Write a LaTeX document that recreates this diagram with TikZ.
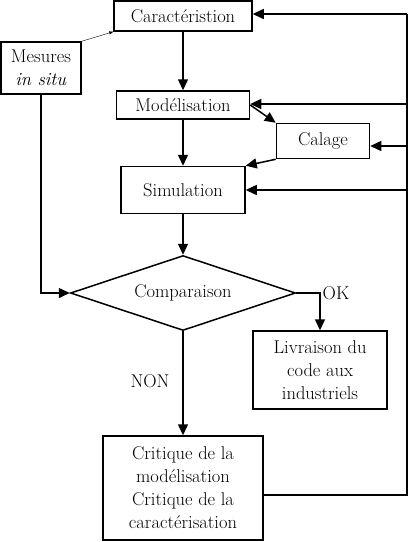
\documentclass[tikz,border=0pt]{standalone}
\usepackage{fontspec}
\usetikzlibrary{shapes.geometric,arrows.meta}
\begin{document}
\begin{tikzpicture}[x=1pt,y=-1pt,font=\fontsize{18.5}{23}\selectfont,
                    box/.style={draw,line width=1.5pt,inner sep=0pt,align=center},
                    fleche/.style={line width=1.5pt,-{Triangle[length=11pt,width=10pt]}},
                    ligne/.style={line width=1.5pt}]
                    \useasboundingbox (0,0) rectangle (408,542);
                    \node[box,minimum width=138pt,minimum height=30pt] (car) at (183,16){Caractéristion};
                    \node[box,minimum width=80pt,minimum height=52pt] (mes) at (41,68){Mesures\\\textit{in situ}};
                    \node[box,minimum width=133pt,minimum height=28pt] (mod) at (183,105){Modélisation};
                    \node[box,minimum width=93pt,minimum height=35pt] (cal) at (323,141){Calage};
                    \node[box,minimum width=124pt,minimum height=47pt] (sim) at (183,190){Simulation};
                    \node[box,diamond,shape aspect=3,minimum width=225pt,minimum height=75pt] (comp) at (183,293){Comparaison};
                    \node[box,minimum width=134pt,minimum height=78pt] (liv) at (320,370){Livraison du\\code aux\\industriels};
                    \node[box,minimum width=160pt,minimum height=104pt] (crit) at (183,488){Critique de la\\modélisation\\Critique de la\\caractérisation};
                    \node (ok) at (336,293){OK};
                    \node (non) at (150,381){NON};

                    \coordinate (r0) at (407,14);
                    \coordinate (r1) at (407,104);
                    \coordinate (r2) at (407,146);
                    \coordinate (r3) at (407,190);
                    \coordinate (r4) at (407,495);

                    \draw[fleche] (car) -- (mod);
                    \draw[fleche] (mod) -- (sim);
                    \draw[fleche] (sim) -- (comp);
                    \draw[fleche] (mod.east) -- (cal.north west);
                    \draw[fleche] (cal.south west) -- (sim.north east);
                    \draw[thin,-{Triangle[length=4pt,width=3pt]}] (mes.north east) -- (car.south west);
                    \draw[fleche] (mes.south) |- (comp.west);
                    \draw[fleche] (comp.east) -| (liv.north);
                    \draw[fleche] (comp) -- (crit);
                    \draw[ligne] (crit.east |- r4) -- (r4) -- (r0);
                    \draw[fleche] (r0) -- (car.east |- r0);
                    \draw[fleche] (r1) -- (mod.east |- r1);
                    \draw[fleche] (r2) -- (cal.east |- r2);
                    \draw[fleche] (r3) -- (sim.east);
                \end{tikzpicture}
\end{document}
